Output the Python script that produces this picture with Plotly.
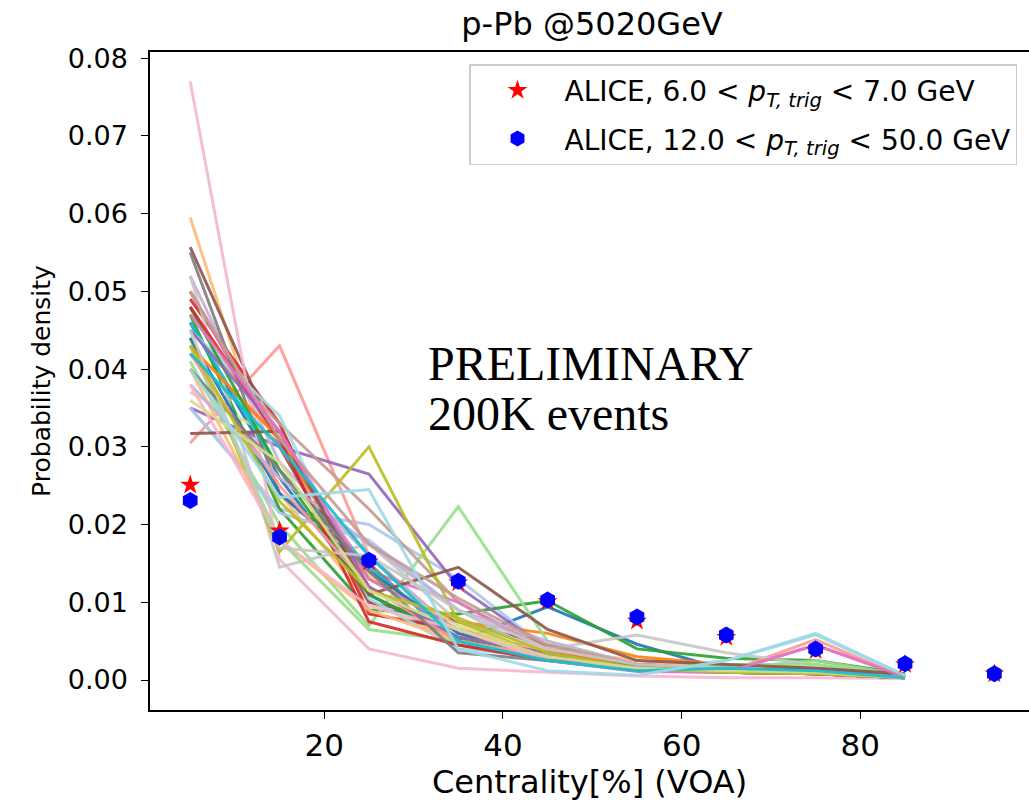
import plotly.graph_objects as go

# ---------------- data ----------------
centrality = [5, 15, 25, 35, 45, 55, 65, 75, 85]
centrality_alice = [5, 15, 25, 35, 45, 55, 65, 75, 85, 95]

alice_low_pt = [0.0251, 0.0192, 0.0152, 0.0125, 0.0101, 0.0076, 0.0055, 0.0038, 0.0020, 0.0008]
alice_high_pt = [0.0231, 0.0184, 0.0154, 0.0127, 0.0103, 0.0081, 0.0058, 0.0040, 0.0021, 0.0008]

# model event-class curves (probability density per centrality bin)
model_density = [
    [0.046, 0.026, 0.011, 0.005, 0.0094, 0.0046, 0.0013, 0.0014, 0.0005],
    [0.035, 0.022, 0.020, 0.013, 0.004, 0.002, 0.0015, 0.0012, 0.0004],
    [0.050, 0.030, 0.013, 0.0075, 0.006, 0.003, 0.002, 0.0015, 0.0005],
    [0.0595, 0.024, 0.010, 0.005, 0.004, 0.002, 0.0015, 0.001, 0.0004],
    [0.047, 0.022, 0.009, 0.0085, 0.0102, 0.004, 0.0028, 0.0025, 0.0008],
    [0.041, 0.020, 0.007, 0.0223, 0.005, 0.002, 0.0015, 0.0025, 0.0006],
    [0.049, 0.033, 0.0085, 0.0065, 0.0035, 0.002, 0.0012, 0.0008, 0.0003],
    [0.0305, 0.043, 0.016, 0.006, 0.003, 0.002, 0.001, 0.0052, 0.0003],
    [0.035, 0.030, 0.0265, 0.012, 0.004, 0.002, 0.0015, 0.001, 0.0004],
    [0.052, 0.028, 0.016, 0.006, 0.003, 0.0015, 0.001, 0.0008, 0.0003],
    [0.0557, 0.030, 0.010, 0.0075, 0.0045, 0.002, 0.0015, 0.001, 0.0004],
    [0.045, 0.033, 0.022, 0.010, 0.004, 0.002, 0.001, 0.0008, 0.0003],
    [0.050, 0.030, 0.014, 0.010, 0.0035, 0.0015, 0.001, 0.0045, 0.0004],
    [0.077, 0.0155, 0.004, 0.0015, 0.001, 0.0005, 0.0003, 0.0003, 0.0002],
    [0.055, 0.024, 0.015, 0.0045, 0.003, 0.0015, 0.0012, 0.0008, 0.0003],
    [0.052, 0.0145, 0.0175, 0.0075, 0.004, 0.0058, 0.0035, 0.002, 0.0006],
    [0.044, 0.0165, 0.030, 0.0075, 0.003, 0.002, 0.001, 0.001, 0.0003],
    [0.037, 0.031, 0.0135, 0.007, 0.003, 0.0015, 0.001, 0.001, 0.0003],
    [0.046, 0.027, 0.0145, 0.005, 0.0025, 0.0012, 0.001, 0.0008, 0.0003],
    [0.045, 0.034, 0.0105, 0.004, 0.003, 0.0012, 0.0025, 0.006, 0.0006],
    [0.044, 0.024, 0.014, 0.006, 0.003, 0.002, 0.001, 0.0008, 0.0003],
    [0.035, 0.0215, 0.018, 0.009, 0.003, 0.0015, 0.001, 0.0008, 0.0003],
    [0.043, 0.031, 0.012, 0.0055, 0.0035, 0.002, 0.0012, 0.001, 0.0003],
    [0.040, 0.018, 0.009, 0.005, 0.004, 0.0025, 0.0015, 0.001, 0.0003],
    [0.048, 0.027, 0.011, 0.0055, 0.003, 0.0015, 0.001, 0.0008, 0.0003],
    [0.043, 0.018, 0.0065, 0.005, 0.003, 0.0015, 0.002, 0.002, 0.0005],
    [0.048, 0.031, 0.0075, 0.0045, 0.0025, 0.0015, 0.001, 0.0008, 0.0003],
    [0.042, 0.025, 0.012, 0.005, 0.003, 0.0012, 0.001, 0.0008, 0.0003],
    [0.045, 0.032, 0.012, 0.0055, 0.0035, 0.0015, 0.0012, 0.0015, 0.0004],
    [0.038, 0.026, 0.0175, 0.009, 0.005, 0.002, 0.0012, 0.001, 0.0003],
    [0.0317, 0.032, 0.011, 0.0145, 0.0065, 0.0025, 0.002, 0.0015, 0.0008],
    [0.050, 0.031, 0.0175, 0.0105, 0.0045, 0.002, 0.0012, 0.001, 0.0003],
    [0.047, 0.032, 0.013, 0.0065, 0.0025, 0.0011, 0.001, 0.0045, 0.0004],
    [0.038, 0.018, 0.0095, 0.0065, 0.0025, 0.0015, 0.0012, 0.001, 0.0003],
    [0.040, 0.027, 0.014, 0.0035, 0.0025, 0.002, 0.001, 0.0008, 0.0003],
    [0.045, 0.017, 0.016, 0.009, 0.004, 0.002, 0.0015, 0.001, 0.0003],
    [0.043, 0.023, 0.0115, 0.008, 0.0035, 0.0015, 0.001, 0.0008, 0.0003],
    [0.036, 0.028, 0.0115, 0.0065, 0.003, 0.0015, 0.0012, 0.001, 0.0003],
    [0.042, 0.030, 0.016, 0.005, 0.0025, 0.0012, 0.0015, 0.0012, 0.0003],
    [0.040, 0.0235, 0.0245, 0.004, 0.0012, 0.0006, 0.0025, 0.0058, 0.0006],
]

y_ticks = [0.00, 0.01, 0.02, 0.03, 0.04, 0.05, 0.06, 0.07, 0.08]
x_ticks = [20, 40, 60, 80]

# ---------------- style ----------------
tab20 = ["#1f77b4", "#aec7e8", "#ff7f0e", "#ffbb78", "#2ca02c", "#98df8a",
         "#d62728", "#ff9896", "#9467bd", "#c5b0d5", "#8c564b", "#c49c94",
         "#e377c2", "#f7b6d2", "#7f7f7f", "#c7c7c7", "#bcbd22", "#dbdb8d",
         "#17becf", "#9edae5"]
FONT = "DejaVu Sans"

fig = go.Figure()

for i, curve in enumerate(model_density):
    fig.add_trace(go.Scatter(
        x=centrality, y=curve, mode="lines",
        line=dict(color=tab20[i % len(tab20)], width=3),
        opacity=0.9, showlegend=False, hoverinfo="skip"))

fig.add_trace(go.Scatter(
    x=centrality_alice, y=alice_low_pt, mode="markers",
    marker=dict(symbol="star", size=15, color="red", line=dict(width=0)),
    legendgroup="low",
    name="ALICE, 6.0 &lt; <i>p</i><sub><i>T, trig</i></sub> &lt; 7.0 GeV"))

fig.add_trace(go.Scatter(
    x=centrality_alice, y=alice_high_pt, mode="markers",
    marker=dict(symbol="hexagon", size=17, color="blue", line=dict(width=0)),
    legendgroup="high",
    name="ALICE, 12.0 &lt; <i>p</i><sub><i>T, trig</i></sub> &lt; 50.0 GeV"))

fig.add_annotation(text="PRELIMINARY", xref="paper", yref="paper",
                   x=(426 - 150) / 879, y=1 - (364 - 52) / 658,
                   xanchor="left", yanchor="middle", showarrow=False,
                   font=dict(family="Liberation Serif", size=48, color="black"))
fig.add_annotation(text="200K events", xref="paper", yref="paper",
                   x=(426 - 150) / 879, y=1 - (413 - 52) / 658,
                   xanchor="left", yanchor="middle", showarrow=False,
                   font=dict(family="Liberation Serif", size=48, color="black"))

fig.update_layout(
    width=1029, height=806,
    margin=dict(l=150, r=0, t=52, b=96),
    paper_bgcolor="white", plot_bgcolor="white",
    font=dict(family=FONT, color="black"),
    title=dict(text="p-Pb @5020GeV", x=(592) / 1029, xanchor="center",
               y=1 - 24 / 806, yanchor="middle", yref="container",
               font=dict(size=32, family=FONT, color="black")),
    xaxis=dict(range=[0.5, 0.5 + 879 / 8.935], tickvals=x_ticks,
               showgrid=False, zeroline=False, showline=True, linecolor="black",
               linewidth=1.5, mirror=True, ticks="outside", ticklen=7,
               tickcolor="black", tickfont=dict(size=31, family=FONT),
               title=dict(text="Centrality[%] (VOA)", font=dict(size=32, family=FONT),
                          standoff=8)),
    yaxis=dict(range=[-0.00386, 0.0808], tickvals=y_ticks, tickformat=".2f",
               showgrid=False, zeroline=False, showline=True, linecolor="black",
               linewidth=1.5, ticks="outside", ticklen=7, tickcolor="black",
               tickfont=dict(size=27, family=FONT), ticklabelstandoff=8,
               title=dict(text="Probability density", font=dict(size=25, family=FONT),
                          standoff=10)),
    legend=dict(x=(1017 - 150) / 879, xanchor="right", y=1 - (64 - 52) / 658,
                yanchor="top", bgcolor="rgba(255,255,255,0.85)",
                bordercolor="#cccccc", borderwidth=1.5,
                font=dict(size=28, family=FONT, color="black"),
                itemwidth=84, traceorder="grouped", tracegroupgap=9),
)

fig.write_html("out.html")
